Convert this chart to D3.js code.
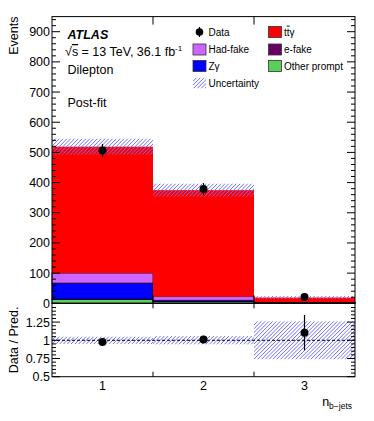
<!DOCTYPE html>
<html>
<head>
<meta charset="utf-8">
<script src="https://cdn.jsdelivr.net/npm/d3@7"></script>
<style>
  html, body { margin: 0; padding: 0; background: #fff; }
  svg { display: block; font-family: "Liberation Sans", Arial, sans-serif; }
</style>
</head>
<body>
<div id="vis"></div>
<script>
// bins of n_b-jets
var bins = [1, 2, 3]

// stacked post-fit predictions, bottom to top
var otherPrompt = [13, 5, 1]
var eFake = [1, 1, 0.5]
var zGamma = [53, 4, 0.5]
var hadFake = [33, 12, 2]
var ttGamma = [419, 353, 15]

var predErr = [27, 22, 5]

var dataVals = [506, 379, 21]
var dataErr = [22, 19.5, 4.6]

var yTicksMain = [0, 100, 200, 300, 400, 500, 600, 700, 800, 900]
var yTicksRatio = [0.5, 0.75, 1, 1.25]

var W = 374, H = 421
var left = 52, right = 355
var mainTop = 16.6, mainBot = 303.3, ratioBot = 376.7
var hatchColor = "#6e6eff"

var svg = d3.select("#vis").append("svg")
    .attr("width", W)
    .attr("height", H)

var defs = svg.append("defs")
var clipId = 0

// draws a "/" hatched rectangle (clip + lines)
function hatchRect(parent, x0, y0, w, h) {
    var id = "hclip" + (clipId++)
    defs.append("clipPath").attr("id", id)
        .append("rect").attr("x", x0).attr("y", y0).attr("width", w).attr("height", h)
    var g = parent.append("g").attr("clip-path", "url(#" + id + ")")
    var step = 3.8
    for (var s = x0 - h - step; s < x0 + w + step; s += step) {
        g.append("line")
            .attr("x1", s).attr("y1", y0 + h)
            .attr("x2", s + h).attr("y2", y0)
            .attr("stroke", hatchColor)
            .attr("stroke-width", 1)
    }
}

var x = d3.scaleLinear().domain([0.5, 3.5]).range([left, right])
var y = d3.scaleLinear().domain([0, 950]).range([mainBot, mainTop])
var yr = d3.scaleLinear().domain([0.5, 1.508]).range([ratioBot, mainBot])

var components = [
    { name: "Other prompt", vals: otherPrompt, color: "#59d159", stroke: "#2a6a2a" },
    { name: "e-fake", vals: eFake, color: "#660066", stroke: "#220022" },
    { name: "Zγ", vals: zGamma, color: "#0000ff", stroke: "#000033" },
    { name: "Had-fake", vals: hadFake, color: "#cc66ff", stroke: "#220033" },
    { name: "ttγ", vals: ttGamma, color: "#ff0000", stroke: "none" }
]

var totals = bins.map(function (b, i) {
    return d3.sum(components, function (c) { return c.vals[i] })
})

// stack
var stackG = svg.append("g")
bins.forEach(function (b, i) {
    var base = 0
    components.forEach(function (c) {
        var v = c.vals[i]
        stackG.append("rect")
            .attr("x", x(b - 0.5))
            .attr("width", x(b + 0.5) - x(b - 0.5))
            .attr("y", y(base + v))
            .attr("height", y(base) - y(base + v))
            .attr("fill", c.color)
            .attr("stroke", c.stroke)
            .attr("stroke-width", 0.8)
        base += v
    })
})

// uncertainty bands
var bandG = svg.append("g")
bins.forEach(function (b, i) {
    var x0 = x(b - 0.5), w = x(b + 0.5) - x(b - 0.5)
    var hi = y(totals[i] + predErr[i]), lo = y(totals[i] - predErr[i])
    hatchRect(bandG, x0, hi, w, lo - hi)
    var rhi = yr(1 + predErr[i] / totals[i]), rlo = yr(1 - predErr[i] / totals[i])
    hatchRect(bandG, x0, rhi, w, rlo - rhi)
})

// dashed line at 1
svg.append("line")
    .attr("x1", left).attr("x2", right)
    .attr("y1", yr(1)).attr("y2", yr(1))
    .attr("stroke", "#000")
    .attr("stroke-dasharray", "3,2")

// data points, main and ratio
var dataG = svg.append("g")
bins.forEach(function (b, i) {
    dataG.append("line")
        .attr("x1", x(b)).attr("x2", x(b))
        .attr("y1", y(dataVals[i] - dataErr[i]))
        .attr("y2", y(dataVals[i] + dataErr[i]))
        .attr("stroke", "#000").attr("stroke-width", 1.2)
    dataG.append("circle")
        .attr("cx", x(b)).attr("cy", y(dataVals[i]))
        .attr("r", 4).attr("fill", "#000")

    var r = dataVals[i] / totals[i]
    var re = dataErr[i] / totals[i]
    dataG.append("line")
        .attr("x1", x(b)).attr("x2", x(b))
        .attr("y1", yr(r - re)).attr("y2", yr(r + re))
        .attr("stroke", "#000").attr("stroke-width", 1.2)
    dataG.append("circle")
        .attr("cx", x(b)).attr("cy", yr(r))
        .attr("r", 4).attr("fill", "#000")
})

// frames
svg.append("rect")
    .attr("x", left).attr("y", mainTop)
    .attr("width", right - left).attr("height", mainBot - mainTop)
    .attr("fill", "none").attr("stroke", "#000")
svg.append("rect")
    .attr("x", left).attr("y", mainBot)
    .attr("width", right - left).attr("height", ratioBot - mainBot)
    .attr("fill", "none").attr("stroke", "#000")

// ticks
var tickG = svg.append("g").attr("stroke", "#000").attr("stroke-width", 1)
function vTick(yy, len) {
    tickG.append("line").attr("x1", left).attr("x2", left + len).attr("y1", yy).attr("y2", yy)
    tickG.append("line").attr("x1", right).attr("x2", right - len).attr("y1", yy).attr("y2", yy)
}
d3.range(0, 951, 20).forEach(function (v) {
    vTick(y(v), v % 100 == 0 ? 8 : 4)
})
d3.range(10, 30).forEach(function (k) {
    var v = k * 0.05
    if (v < 0.5 || v > 1.5) return
    var major = Math.abs(v * 4 - Math.round(v * 4)) < 1e-6
    vTick(yr(v), major ? 8 : 4)
})
;[1.5, 2.5].forEach(function (v) {
    tickG.append("line").attr("x1", x(v)).attr("x2", x(v)).attr("y1", mainTop).attr("y2", mainTop + 8)
    tickG.append("line").attr("x1", x(v)).attr("x2", x(v)).attr("y1", mainBot).attr("y2", mainBot - 8)
    tickG.append("line").attr("x1", x(v)).attr("x2", x(v)).attr("y1", mainBot).attr("y2", mainBot + 5)
    tickG.append("line").attr("x1", x(v)).attr("x2", x(v)).attr("y1", ratioBot).attr("y2", ratioBot - 5)
})

// tick labels
var fs = 12.5
svg.append("g").selectAll("text")
    .data(yTicksMain)
    .enter()
    .append("text")
    .attr("x", left - 2)
    .attr("y", function (d) { return y(d) + 4.5 })
    .attr("text-anchor", "end")
    .attr("font-size", fs)
    .text(function (d) { return d })

svg.append("g").selectAll("text")
    .data(yTicksRatio)
    .enter()
    .append("text")
    .attr("x", left - 2)
    .attr("y", function (d) { return yr(d) + 4.5 })
    .attr("text-anchor", "end")
    .attr("font-size", fs)
    .text(function (d) { return d })

svg.append("g").selectAll("text")
    .data(bins)
    .enter()
    .append("text")
    .attr("x", function (d) { return x(d) })
    .attr("y", 390)
    .attr("text-anchor", "middle")
    .attr("font-size", fs)
    .text(function (d) { return d })

// axis titles
svg.append("text")
    .attr("transform", "translate(17.5," + mainTop + ") rotate(-90)")
    .attr("text-anchor", "end")
    .attr("font-size", fs)
    .text("Events")
svg.append("text")
    .attr("transform", "translate(17.5," + ((mainBot + ratioBot) / 2) + ") rotate(-90)")
    .attr("text-anchor", "middle")
    .attr("font-size", fs)
    .text("Data / Pred.")
var xt = svg.append("text")
    .attr("x", right - 3)
    .attr("y", 406)
    .attr("text-anchor", "end")
    .attr("font-size", fs)
xt.append("tspan").text("n")
xt.append("tspan").attr("font-size", 8.5).attr("dy", 3).text("b\u2212jets")

// labels
svg.append("text")
    .attr("x", 67.5).attr("y", 39)
    .attr("font-size", 12.5)
    .attr("font-weight", "bold")
    .attr("font-style", "italic")
    .text("ATLAS")
var en = svg.append("text")
    .attr("x", 65).attr("y", 56)
    .attr("font-size", 12.5)
en.append("tspan").text("√")
en.append("tspan").attr("text-decoration", "overline").text("s")
en.append("tspan").text(" = 13 TeV, 36.1  fb")
en.append("tspan").attr("font-size", 8).attr("dy", -5).text("-1")
svg.append("text")
    .attr("x", 67.5).attr("y", 73.5)
    .attr("font-size", 12.5)
    .text("Dilepton")
svg.append("text")
    .attr("x", 67.5).attr("y", 107)
    .attr("font-size", 12.5)
    .text("Post-fit")

// legend
var lg = svg.append("g").attr("font-size", 10)
var rowY = [32, 49.5, 66, 83]
lg.append("line")
    .attr("x1", 199.5).attr("x2", 199.5)
    .attr("y1", rowY[0] - 5).attr("y2", rowY[0] + 5)
    .attr("stroke", "#000").attr("stroke-width", 1.2)
lg.append("circle").attr("cx", 199.5).attr("cy", rowY[0]).attr("r", 3.8).attr("fill", "#000")
lg.append("text").attr("x", 208.5).attr("y", rowY[0] + 3.6).text("Data")

var legendItems = [
    { c: components[3], col: 0, row: 1, label: "Had-fake" },
    { c: components[2], col: 0, row: 2, label: "Zγ" },
    { c: components[4], col: 1, row: 0, label: "ttγ" },
    { c: components[1], col: 1, row: 1, label: "e-fake" },
    { c: components[0], col: 1, row: 2, label: "Other prompt" }
]
var colX = [193, 268.5]
legendItems.forEach(function (it) {
    var bx = colX[it.col], by = rowY[it.row]
    lg.append("rect")
        .attr("x", bx).attr("y", by - 5.5)
        .attr("width", 13).attr("height", 11)
        .attr("fill", it.c.color)
        .attr("stroke", "#333").attr("stroke-width", 0.8)
    var t = lg.append("text").attr("x", bx + 15.5).attr("y", by + 3.6)
    if (it.label == "ttγ") {
        t.append("tspan").text("t")
        t.append("tspan").attr("text-decoration", "overline").text("t")
        t.append("tspan").text("γ")
    } else {
        t.text(it.label)
    }
})
hatchRect(lg, 193, rowY[3] - 5.5, 13, 11)
lg.append("text").attr("x", 208.5).attr("y", rowY[3] + 3.6).text("Uncertainty")
</script>
</body>
</html>
